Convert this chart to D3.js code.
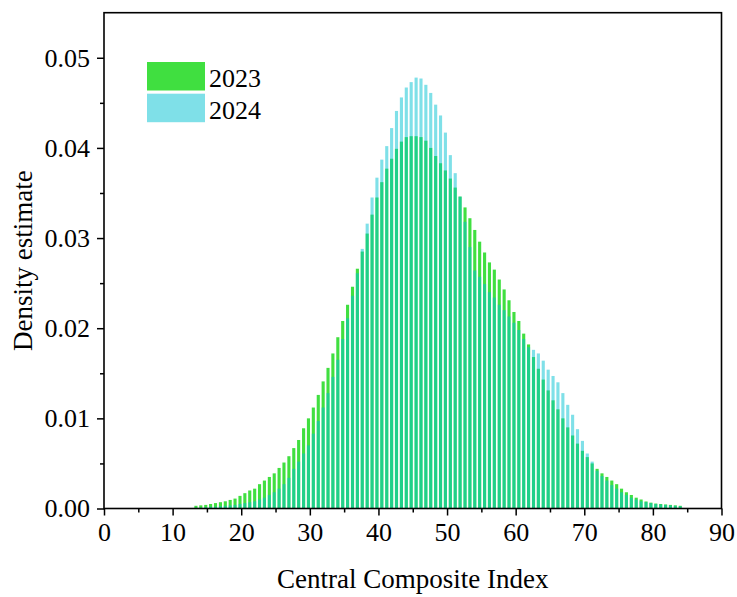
<!DOCTYPE html>
<html>
<head>
<meta charset="utf-8">
<script src="https://cdn.jsdelivr.net/npm/d3@7"></script>
<style>
  html, body { margin: 0; padding: 0; background: #fff; }
  svg { display: block; }
</style>
</head>
<body>
<svg id="chart" width="737" height="597"></svg>
<script>
// ---- Data ----
const seriesNames = ["2023", "2024"];
const binCenters = [13.40,14.11,14.83,15.54,16.25,16.97,17.68,18.39,19.10,19.82,
  20.53,21.24,21.96,22.67,23.38,24.10,24.81,25.52,26.23,26.95,
  27.66,28.37,29.09,29.80,30.51,31.23,31.94,32.65,33.36,34.08,
  34.79,35.50,36.22,36.93,37.64,38.36,39.07,39.78,40.49,41.21,
  41.92,42.63,43.35,44.06,44.77,45.49,46.20,46.91,47.62,48.34,
  49.05,49.76,50.48,51.19,51.90,52.62,53.33,54.04,54.75,55.47,
  56.18,56.89,57.61,58.32,59.03,59.75,60.46,61.17,61.88,62.60,
  63.31,64.02,64.74,65.45,66.16,66.88,67.59,68.30,69.01,69.73,
  70.44,71.15,71.87,72.58,73.29,74.01,74.72,75.43,76.14,76.86,
  77.57,78.28,79.00,79.71,80.42,81.14,81.85,82.56,83.27,83.99];
const density2023 = [0.0003,0.00035,0.0004,0.0005,0.0006,0.0007,0.0008,0.00095,0.0011,0.0014,
  0.0017,0.0020,0.0022,0.0027,0.0031,0.0035,0.0039,0.0045,0.0051,0.0058,
  0.0067,0.0076,0.0089,0.0100,0.0112,0.0126,0.0141,0.0156,0.0172,0.0190,
  0.0208,0.0226,0.0246,0.0266,0.0285,0.0305,0.0326,0.0345,0.0362,0.0377,
  0.0388,0.0399,0.0407,0.0412,0.0413,0.0413,0.0412,0.0408,0.0400,0.0391,
  0.0383,0.0375,0.0366,0.0356,0.0346,0.0334,0.0322,0.0309,0.0296,0.0284,
  0.0273,0.0265,0.0254,0.0243,0.0231,0.0218,0.0208,0.0194,0.0182,0.0168,
  0.0155,0.0143,0.0131,0.0120,0.0110,0.0100,0.0090,0.0081,0.0072,0.0064,
  0.0057,0.0050,0.0044,0.0039,0.0035,0.0031,0.0027,0.0022,0.0018,0.0015,
  0.0012,0.0010,0.00078,0.00065,0.00055,0.0005,0.00045,0.0004,0.00035,0.0003];
const density2024 = [0.0001,0.0001,0.00015,0.0002,0.0002,0.00025,0.0003,0.00035,0.0004,0.0005,
  0.0006,0.0007,0.0008,0.0010,0.0012,0.0015,0.0018,0.0022,0.0027,0.0034,
  0.0044,0.0052,0.0061,0.0070,0.0083,0.0097,0.0112,0.0128,0.0146,0.0165,
  0.0188,0.0211,0.0236,0.0261,0.0288,0.0316,0.0345,0.0367,0.0387,0.0402,
  0.0422,0.0441,0.0456,0.0467,0.0473,0.0478,0.0477,0.0470,0.0461,0.0448,
  0.0436,0.0417,0.0392,0.0372,0.0346,0.0318,0.0290,0.0264,0.0257,0.0249,
  0.0240,0.0234,0.0226,0.0220,0.0213,0.0206,0.0198,0.0188,0.0179,0.0176,
  0.0172,0.0164,0.0154,0.0147,0.0140,0.0128,0.0115,0.0104,0.0088,0.0075,
  0.0061,0.0052,0.0042,0.0036,0.0031,0.0026,0.0022,0.0018,0.0015,0.0012,
  0.0010,0.0008,0.0007,0.0006,0.0005,0.00045,0.0004,0.00035,0.0003,0.00025];
const xMajorTicks = [0,10,20,30,40,50,60,70,80,90];
const xMinorTicks = [5,15,25,35,45,55,65,75,85];
const yMajorTicks = [0,0.01,0.02,0.03,0.04,0.05];
const yMinorTicks = [0.005,0.015,0.025,0.035,0.045];
const xTitle = "Central Composite Index";
const yTitle = "Density estimate";

// ---- Layout ----
const L = 104, R = 721.5, T = 12.7, B = 508.5;
const colors = { "2023": "#40df40", "2024": "#00c2d2" };
const opac = { "2023": 1, "2024": 0.5 };
const font = "'Liberation Serif', 'Times New Roman', serif";

const svg = d3.select("#chart");
const x = d3.scaleLinear().domain([0, 90]).range([L, R]);
const y = d3.scaleLinear().domain([0, 0.055]).range([B, T]);

const pitch = x(binCenters[1]) - x(binCenters[0]);
const barW = pitch * 0.64;

const seriesData = { "2023": density2023, "2024": density2024 };
seriesNames.forEach(name => {
  svg.append("g").selectAll("rect")
    .data(binCenters.map((c, i) => ({c, v: seriesData[name][i]})))
    .join("rect")
    .attr("x", d => x(d.c) - barW / 2)
    .attr("width", barW)
    .attr("y", d => y(d.v))
    .attr("height", d => y(0) - y(d.v))
    .attr("fill", colors[name])
    .attr("fill-opacity", opac[name]);
});

// Axes
const xAxis = svg.append("g").attr("transform", `translate(0,${B})`)
  .call(d3.axisBottom(x).tickValues(xMajorTicks).tickSize(7).tickPadding(7).tickFormat(d3.format("d")));
const xMinor = svg.append("g").attr("transform", `translate(0,${B})`)
  .call(d3.axisBottom(x).tickValues(xMinorTicks).tickSize(4).tickFormat(""));
const yAxis = svg.append("g").attr("transform", `translate(${L},0)`)
  .call(d3.axisLeft(y).tickValues(yMajorTicks).tickSize(7).tickPadding(7).tickFormat(d3.format(".2f")));
const yMinor = svg.append("g").attr("transform", `translate(${L},0)`)
  .call(d3.axisLeft(y).tickValues(yMinorTicks).tickSize(4).tickFormat(""));

[xAxis, xMinor, yAxis, yMinor].forEach(g => {
  g.select(".domain").remove();
  g.selectAll(".tick line").attr("stroke", "#000").attr("stroke-width", 1.5);
  g.selectAll(".tick text").attr("fill", "#000").style("font-family", font).style("font-size", "26px");
});

// Frame
svg.append("rect").attr("x", L).attr("y", T).attr("width", R - L).attr("height", B - T)
  .attr("fill", "none").attr("stroke", "#000").attr("stroke-width", 1.6);

// Titles
svg.append("text").attr("x", (L + R) / 2).attr("y", 588).attr("text-anchor", "middle")
  .style("font-family", font).style("font-size", "27px").attr("fill", "#000").text(xTitle);
svg.append("text").attr("transform", `translate(32,${(T + B) / 2}) rotate(-90)`)
  .attr("text-anchor", "middle")
  .style("font-family", font).style("font-size", "27px").attr("fill", "#000").text(yTitle);

// Legend
const legend = svg.append("g");
seriesNames.forEach((name, i) => {
  legend.append("rect").attr("x", 147).attr("y", 62 + i * 31.7).attr("width", 58).attr("height", 28.5)
    .attr("fill", colors[name]).attr("fill-opacity", opac[name]);
  legend.append("text").attr("x", 209).attr("y", 87 + i * 31.7)
    .style("font-family", font).style("font-size", "26px").attr("fill", "#000").text(name);
});
</script>
</body>
</html>
